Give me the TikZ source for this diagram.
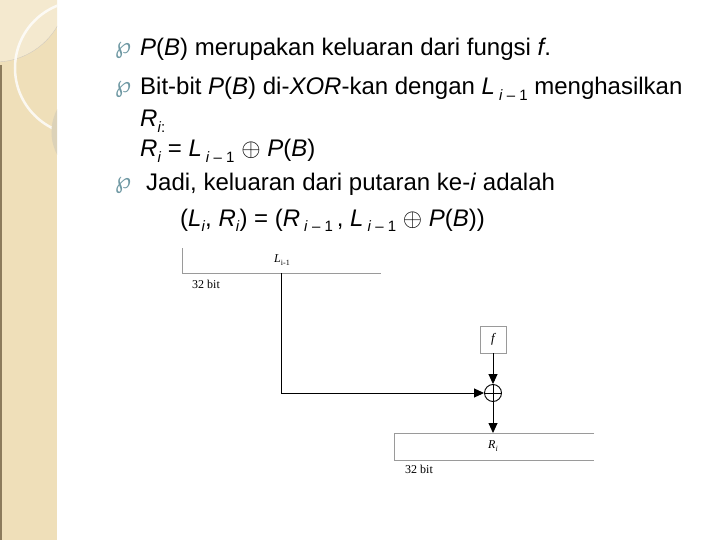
\documentclass[tikz,border=0pt]{standalone}
\usepackage{fontspec}
\setmainfont{Liberation Sans}
\newfontfamily\tim{Liberation Serif}
\newfontfamily\djv{DejaVu Sans}
\usetikzlibrary{arrows.meta}
\definecolor{beige}{HTML}{EFDFB9}
\definecolor{beigelt}{HTML}{F4E9CF}
\definecolor{beigedk}{HTML}{8C7B5C}
\definecolor{ringc}{HTML}{DCD2B8}
\definecolor{bulc}{HTML}{6E98A3}
\definecolor{regc}{HTML}{9A9A9A}
\newcommand{\mysub}[1]{\raisebox{-0.45ex}{\fontsize{15}{15}\selectfont #1}}
\newcommand{\mybul}{{\djv\color{bulc}\fontsize{23}{23}\selectfont ℘}}
\tikzset{
  txt/.style={anchor=base west, inner sep=0pt, font=\fontsize{24}{28}\selectfont},
  bul/.style={anchor=base west, inner sep=0pt},
  reg/.style={draw=regc, line width=0.8pt},
  arr/.style={draw=black, line width=0.9pt, -{Triangle[length=10pt,width=9pt]}},
  lab/.style={inner sep=0pt, font=\tim\fontsize{12}{14}\selectfont},
}
\begin{document}
\begin{tikzpicture}[x=1pt,y=-1pt]
\useasboundingbox (0,0) rectangle (720,540);
\fill[white] (0,0) rectangle (720,540);
% left decorative strip
\begin{scope}
\clip (0,0) rectangle (57,540);
\fill[beige] (0,0) rectangle (57,540);
\fill[beigelt] (-5,-10) circle (72);
\draw[beigedk!40, line width=0.4pt] (-5,-10) circle (72);
\draw[white, opacity=0.8, line width=2.5pt] (82,68) circle (67);
\draw[ringc, line width=9pt] (100,132) circle (44);
\end{scope}
\fill[beigedk] (0,65) rectangle (2,540);
% bullets
\node[bul] (b1) at (115,54) {\mybul};
\node[bul] (b2) at (115,93) {\mybul};
\node[bul] (b3) at (115,189) {\mybul};
% texts
\node[txt] (t1) at (140,56) {\textit{P}(\textit{B}) merupakan keluaran dari fungsi \textit{f}.};
\node[txt] (t2) at (140,95) {Bit-bit \textit{P}(\textit{B}) di-\textit{XOR}-kan dengan \textit{L}\,\mysub{\textit{i} – 1} menghasilkan};
\node[txt] (t3) at (140,127) {\textit{R}\mysub{\textit{i}:}};
\node[txt] (t4) at (140,157) {\textit{R}\mysub{\textit{i}} = \textit{L}\,\mysub{\textit{i} – 1} $\oplus$ \textit{P}(\textit{B})};
\node[txt] (t5) at (146,191) {Jadi, keluaran dari putaran ke-\textit{i} adalah};
\node[txt] (t6) at (180,226) {(\textit{L}\mysub{\textit{i}}, \textit{R}\mysub{\textit{i}}) = (\textit{R}\,\mysub{\textit{i} – 1}\,, \textit{L}\,\mysub{\textit{i} – 1} $\oplus$ \textit{P}(\textit{B}))};
% top register
\draw[reg] (182,248) -- (182,273) -- (381,273);
\node[lab] (L) at (282,260) {\textit{L}\raisebox{-0.5ex}{\fontsize{8}{8}\selectfont i-1}};
\node[lab, anchor=west] (bit1) at (192,284) {32 bit};
\coordinate (j) at (281,273);
\coordinate (c) at (281,393);
% f box and xor
\node[draw=regc, line width=0.8pt, minimum width=26pt, minimum height=27pt, inner sep=0pt, font=\tim\itshape\fontsize{13}{14}\selectfont] (f) at (493,339.5) {f};
\node[draw=black, line width=0.9pt, circle, minimum size=17pt, inner sep=0pt,
  path picture={\draw[line width=0.8pt] (path picture bounding box.north) -- (path picture bounding box.south)
  (path picture bounding box.west) -- (path picture bounding box.east);}] (x) at (493,393) {};
% bottom register
\draw[reg] (594,433) -- (394,433) -- (394,460) -- (594,460);
\coordinate (rt) at (493,433);
\node[lab] (R) at (493,446) {\textit{R}\raisebox{-0.5ex}{\fontsize{8}{8}\selectfont\textit{i}}};
\node[lab, anchor=west] (bit2) at (405,469) {32 bit};
% connectors
\draw[line width=0.9pt] (j) -- (c);
\draw[arr] (c) -- (x.west);
\draw[arr] (f.south) -- (x.north);
\draw[arr] (x.south) -- (rt);
\end{tikzpicture}
\end{document}
